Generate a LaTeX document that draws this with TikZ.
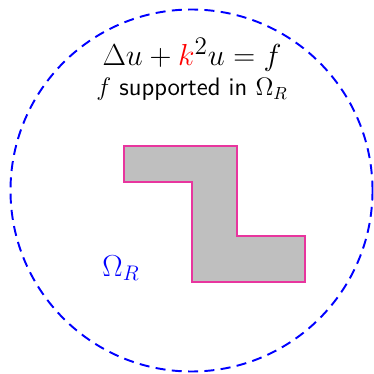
\documentclass[tikz,border=0pt]{standalone}
\usepackage{tikz}
\usetikzlibrary{positioning}
\usepackage{amsmath}
\definecolor{spInk}{HTML}{000000}
\definecolor{spBound}{HTML}{0000FF}
\definecolor{spEdge}{HTML}{E8359E}
\definecolor{spFill}{HTML}{BFBFBF}
\definecolor{spWave}{HTML}{FF0000}
\tikzset{
  bnd/.style={draw=spBound,line width=1.1pt,dash pattern=on 5.7pt off 3.6pt},
  scat/.style={fill=spFill,draw=spEdge,line width=0.6pt},
  eqn/.style={font=\fontsize{18.9}{22}\selectfont,text=spInk,inner sep=0pt},
  lbl/.style={font=\Large\sffamily,text=spInk,inner sep=0pt},
  dom/.style={font=\LARGE,text=spBound,inner sep=0pt},
}
\begin{document}
\begin{tikzpicture}[x=0.02cm,y=-0.02cm]
  \useasboundingbox (0,0) rectangle (373,374);

  % artificial boundary
  \draw[bnd] (191.5,190.5) circle[radius=181];

  % scatterer
  \draw[scat] (124,146) -- (237,146) -- (237,236) -- (305,236)
    -- (305,282) -- (192,282) -- (192,182) -- (124,182) -- cycle;

  \node[eqn] (eq) at (192,55) {$\Delta u+\textcolor{spWave}{k}^2u=f$};
  \node[lbl,below=0.12cm of eq] (supp) {$f$ supported in $\Omega_R$};
  \node[dom] (omega) at (121,268) {$\Omega_R$};
\end{tikzpicture}
\end{document}
